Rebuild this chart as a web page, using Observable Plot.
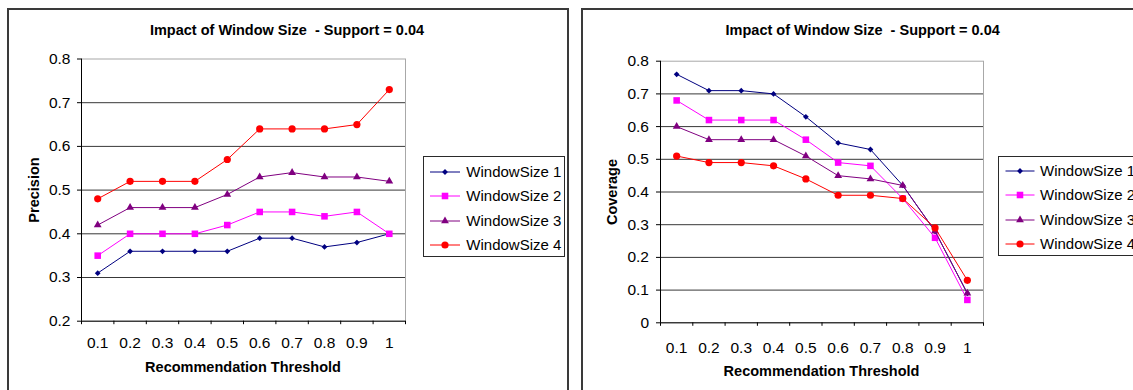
<!DOCTYPE html>
<html>
<head>
<meta charset="utf-8">
<script src="https://cdn.jsdelivr.net/npm/d3@7"></script>
<script src="https://cdn.jsdelivr.net/npm/@observablehq/plot@0.6"></script>
<style>
  html, body { margin: 0; padding: 0; background: #fff; overflow: hidden; }
  #root { position: relative; width: 1133px; height: 390px; overflow: hidden;
          font-family: Arial, "Liberation Sans", sans-serif; color: #000; }
  .panel { position: absolute; border: 2px solid #3a3a3a; box-sizing: border-box; background: #fff; }
  .chart { position: absolute; top: 0; }
  .txt { position: absolute; white-space: pre; transform: translate(-50%, -50%); line-height: 1; }
  .bold { font-weight: bold; font-size: 14.5px; }
  .ytitle { transform: translate(-50%, -50%) rotate(-90deg); }
  .legend { position: absolute; border: 1px solid #2a2a2a; box-sizing: border-box; background: #fff; }
  .lrow { position: absolute; left: 0; height: 20px; }
  .lrow svg { position: absolute; top: 0; }
  .lrow span { position: absolute; top: 0; line-height: 20px; font-size: 15px; white-space: nowrap; }
</style>
</head>
<body>
<div id="root"></div>
<script>
// ---------------- data ----------------
const thresholds = [0.1, 0.2, 0.3, 0.4, 0.5, 0.6, 0.7, 0.8, 0.9, 1.0];
const xTickLabels = ["0.1", "0.2", "0.3", "0.4", "0.5", "0.6", "0.7", "0.8", "0.9", "1"];
const seriesNames = ["WindowSize 1", "WindowSize 2", "WindowSize 3", "WindowSize 4"];

const precision1 = [0.31, 0.36, 0.36, 0.36, 0.36, 0.39, 0.39, 0.37, 0.38, 0.40];
const precision2 = [0.35, 0.40, 0.40, 0.40, 0.42, 0.45, 0.45, 0.44, 0.45, 0.40];
const precision3 = [0.42, 0.46, 0.46, 0.46, 0.49, 0.53, 0.54, 0.53, 0.53, 0.52];
const precision4 = [0.48, 0.52, 0.52, 0.52, 0.57, 0.64, 0.64, 0.64, 0.65, 0.73];

const coverage1 = [0.76, 0.71, 0.71, 0.70, 0.63, 0.55, 0.53, 0.42, 0.28, 0.09];
const coverage2 = [0.68, 0.62, 0.62, 0.62, 0.56, 0.49, 0.48, 0.38, 0.26, 0.07];
const coverage3 = [0.60, 0.56, 0.56, 0.56, 0.51, 0.45, 0.44, 0.42, 0.28, 0.09];
const coverage4 = [0.51, 0.49, 0.49, 0.48, 0.44, 0.39, 0.39, 0.38, 0.29, 0.13];

const precisionTicks = [0.2, 0.3, 0.4, 0.5, 0.6, 0.7, 0.8];
const precisionTickLabels = ["0.2", "0.3", "0.4", "0.5", "0.6", "0.7", "0.8"];
const coverageTicks = [0, 0.1, 0.2, 0.3, 0.4, 0.5, 0.6, 0.7, 0.8];
const coverageTickLabels = ["0", "0.1", "0.2", "0.3", "0.4", "0.5", "0.6", "0.7", "0.8"];

const chartTitle = "Impact of Window Size  - Support = 0.04";
const xTitle = "Recommendation Threshold";

// ---------------- styles ----------------
const colors = ["#000080", "#ff00ff", "#800080", "#ff0000"];
const symbols = ["diamond2", "square", "triangle", "circle"];
const radii = [2.6, 3.7, 2.9, 3.6];

const root = document.getElementById("root");

function addDiv(cls, left, top, text, extra) {
  const d = document.createElement("div");
  d.className = cls;
  d.style.left = left + "px";
  d.style.top = top + "px";
  if (text != null) d.textContent = text;
  if (extra) Object.assign(d.style, extra);
  root.appendChild(d);
  return d;
}

function makeChart(cfg) {
  const rows = cfg.series.map(vals => thresholds.map((t, i) => ({t, v: vals[i]})));
  const half = (thresholds[1] - thresholds[0]) / 2;
  const xDomain = [thresholds[0] - half, thresholds[thresholds.length - 1] + half];
  const boundaries = thresholds.map(t => t - half).concat([xDomain[1]]);
  const yDomain = [cfg.yTicks[0], cfg.yTicks[cfg.yTicks.length - 1]];
  const marks = [
    Plot.frame({stroke: "#a8a8a8"}),
    Plot.ruleY(cfg.yTicks.slice(1, -1), {stroke: "#383838"}),
    Plot.ruleX([xDomain[0]], {stroke: "#000"}),
    Plot.ruleY([yDomain[0]], {stroke: "#000"}),
    Plot.axisY({ticks: cfg.yTicks, tickSize: 4, tickPadding: cfg.yPad, stroke: "#000", fontSize: 15.5,
      tickFormat: d => cfg.yLabels[cfg.yTicks.indexOf(d)], label: null}),
    Plot.axisX({ticks: boundaries, tickSize: 3.5, stroke: "#000", fill: "none",
      tickFormat: () => "", label: null}),
    Plot.axisX({ticks: thresholds, tickSize: 0, tickPadding: cfg.xPad, fontSize: 15.5,
      tickFormat: d => xTickLabels[thresholds.indexOf(d)], label: null})
  ];
  rows.forEach((r, k) => {
    marks.push(Plot.line(r, {x: "t", y: "v", stroke: colors[k], strokeWidth: 1}));
    marks.push(Plot.dot(r, {x: "t", y: "v", symbol: symbols[k], r: radii[k], fill: colors[k], stroke: "none"}));
  });
  const svg = Plot.plot({
    width: cfg.width, height: 390,
    marginLeft: cfg.ml, marginRight: cfg.mr, marginTop: cfg.mt, marginBottom: cfg.mb,
    x: {domain: xDomain},
    y: {domain: yDomain},
    style: {background: "none", fontFamily: "Arial, 'Liberation Sans', sans-serif", fontSize: "15px", color: "#000", overflow: "visible"},
    marks
  });
  svg.classList.add("chart");
  svg.style.left = cfg.left + "px";
  svg.style.maxWidth = "none";
  root.appendChild(svg);
}

function makeLegend(left, top, width, height, rowTops, lineX0, lineX1, textX) {
  const box = addDiv("legend", left, top, null, {width: width + "px", height: height + "px"});
  seriesNames.forEach((name, k) => {
    const row = document.createElement("div");
    row.className = "lrow";
    row.style.top = (rowTops[k] - 10) + "px";
    row.style.width = (width + 100) + "px";
    const ns = "http://www.w3.org/2000/svg";
    const s = document.createElementNS(ns, "svg");
    s.setAttribute("width", lineX1 + 2);
    s.setAttribute("height", 20);
    const ln = document.createElementNS(ns, "line");
    ln.setAttribute("x1", lineX0); ln.setAttribute("x2", lineX1);
    ln.setAttribute("y1", 10); ln.setAttribute("y2", 10);
    ln.setAttribute("stroke", colors[k]); ln.setAttribute("stroke-width", 1);
    s.appendChild(ln);
    const sym = {diamond2: d3.symbolDiamond2, square: d3.symbolSquare, triangle: d3.symbolTriangle, circle: d3.symbolCircle}[symbols[k]];
    const p = document.createElementNS(ns, "path");
    p.setAttribute("d", d3.symbol(sym, Math.PI * radii[k] * radii[k])());
    p.setAttribute("transform", `translate(${(lineX0 + lineX1) / 2},10)`);
    p.setAttribute("fill", colors[k]);
    s.appendChild(p);
    row.appendChild(s);
    const sp = document.createElement("span");
    sp.style.left = textX + "px";
    sp.textContent = name;
    row.appendChild(sp);
    box.appendChild(row);
  });
}

// panels
addDiv("panel", 6.5, 7.5, null, {width: "562px", height: "420px"});
addDiv("panel", 580.5, 7.5, null, {width: "620px", height: "420px"});

// left chart
makeChart({left: 0, width: 570, ml: 81, mr: 165, mt: 58.5, mb: 69.3,
  series: [precision1, precision2, precision3, precision4],
  yTicks: precisionTicks, yLabels: precisionTickLabels, yPad: 7, xPad: 15.5});
// right chart
makeChart({left: 570, width: 563, ml: 90, mr: 150, mt: 60.7, mb: 67.7,
  series: [coverage1, coverage2, coverage3, coverage4],
  yTicks: coverageTicks, yLabels: coverageTickLabels, yPad: 7.5, xPad: 19.5});

// titles
addDiv("txt bold", 287, 30, chartTitle);
addDiv("txt bold", 862.7, 30, chartTitle);
addDiv("txt bold", 243, 366.7, xTitle);
addDiv("txt bold", 821.5, 371, xTitle);
addDiv("txt bold ytitle", 33.5, 190, "Precision");
addDiv("txt bold ytitle", 611.5, 192, "Coverage");

// legends
makeLegend(423.3, 155.7, 142, 101, [15.8, 39.7, 64.2, 88.5], 6, 36, 42);
makeLegend(997.5, 155.7, 200, 100.5, [14.5, 38.6, 63.6, 87.6], 6.5, 35.5, 41.5);
</script>
</body>
</html>
